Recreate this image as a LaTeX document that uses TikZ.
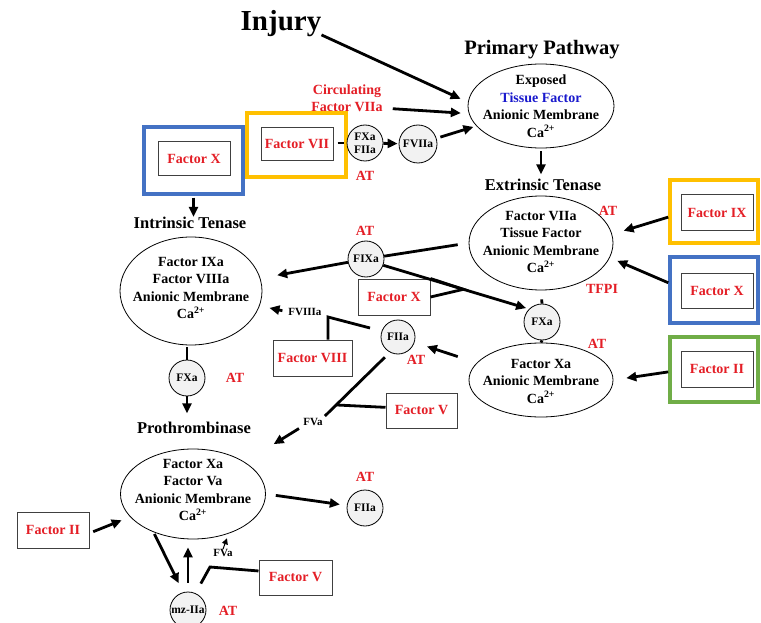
\documentclass[tikz,border=0pt]{standalone}
\usepackage{fontspec}
\setmainfont{Liberation Serif}
\usetikzlibrary{arrows.meta,shapes.geometric,calc}
\definecolor{redt}{RGB}{228,30,38}
\definecolor{bluet}{RGB}{25,25,205}
\definecolor{hly}{HTML}{FFC000}
\definecolor{hlb}{HTML}{4472C4}
\definecolor{hlg}{HTML}{70AD47}
\begin{document}
\begin{tikzpicture}[x=1pt,y=-1pt,
  ttl/.style={font=\bfseries\fontsize{16.5}{19}\selectfont, inner sep=0, anchor=base},
  etxt/.style={font=\bfseries\fontsize{14}{17.5}\selectfont, align=center, inner sep=0},
  ell/.style={draw, ellipse, line width=0.8pt, inner sep=0},
  circ/.style={draw, circle, line width=0.8pt, fill=black!5, inner sep=0, minimum size=36pt, font=\bfseries\fontsize{11.5}{13}\selectfont, align=center},
  fbox/.style={draw=black!75, line width=1pt, inner sep=0, minimum width=72pt, minimum height=35pt, text=redt, font=\bfseries\fontsize{14}{16}\selectfont},
  redlbl/.style={text=redt, font=\bfseries\fontsize{14}{17}\selectfont, inner sep=0, align=center},
  blk/.style={font=\bfseries\fontsize{11}{13}\selectfont, inner sep=0},
  hl/.style={draw, line width=3.5pt, inner sep=0},
  arr/.style={line width=2.8pt, -{Triangle[length=10pt,width=9pt]}},
  ln/.style={line width=2.8pt},
]
\useasboundingbox (0,0) rectangle (761,623);
\fill[white] (0,0) rectangle (761,623);

% ---- primary pathway
\node[ttl, font=\bfseries\fontsize{29}{31}\selectfont] (injury) at (281,31) {Injury};
\node[ttl, font=\bfseries\fontsize{20.5}{23}\selectfont] (ptitle) at (542,55) {Primary Pathway};
\node[ell, minimum width=146pt, minimum height=84pt] (prim) at (541,106) {};
\node[etxt] (primtxt) at (541,106) {Exposed\\\textcolor{bluet}{Tissue Factor}\\Anionic Membrane\\Ca\textsuperscript{2+}};

\node[redlbl] (circtxt) at (347,98.5) {Circulating\\Factor VIIa};
\node[hl, draw=hly, minimum width=99pt, minimum height=64pt] (fVIIhl) at (296.5,145) {};
\node[fbox, minimum height=33pt] (fVII) at (297,144) {Factor VII};
\node[circ] (c1) at (365,143) {FXa\\FIIa};
\node[circ, minimum size=38pt] (fVIIa) at (418,144) {FVIIa};
\node[redlbl] (at1) at (365,176) {AT};

% ---- extrinsic tenase
\node[ttl] (exttitle) at (543,190) {Extrinsic Tenase};
\node[ell, minimum width=144pt, minimum height=94pt] (ext) at (541,243) {};
\node[etxt] (exttxt) at (541,242) {Factor VIIa\\Tissue Factor\\Anionic Membrane\\Ca\textsuperscript{2+}};
\node[redlbl] (at2) at (608,211) {AT};
\node[redlbl] (tfpi) at (602,289) {TFPI};

% ---- intrinsic tenase
\node[hl, draw=hlb, minimum width=99pt, minimum height=67pt] (fX1hl) at (193.5,160.5) {};
\node[fbox, minimum height=34pt] (fX1) at (194,159) {Factor X};
\node[ttl] (inttitle) at (190,228.5) {Intrinsic Tenase};
\node[ell, minimum width=142pt, minimum height=108pt] (int) at (191,291) {};
\node[etxt] (inttxt) at (191,288) {Factor IXa\\Factor VIIIa\\Anionic Membrane\\Ca\textsuperscript{2+}};

\node[circ] (fIXa) at (366,259) {FIXa};
\node[redlbl] (at3) at (365,231) {AT};
\node[fbox, minimum height=36pt] (fX2) at (394,297) {Factor X};
\node[circ] (fXa2) at (542,322) {FXa};
\node[ell, minimum width=144pt, minimum height=74pt] (xa) at (541,380) {};
\node[etxt] (xatxt) at (541,381) {Factor Xa\\Anionic Membrane\\Ca\textsuperscript{2+}};
\node[redlbl] (at4) at (597,344) {AT};
\node[circ, minimum size=34pt] (fIIa1) at (398,337) {FIIa};
\node[redlbl] (at5) at (416,360) {AT};
\node[blk] (fVIIIa) at (305,312) {FVIIIa};
\node[fbox, minimum width=79pt, minimum height=36pt] (fVIII) at (312.5,358) {Factor VIII};
\node[fbox, minimum width=71pt] (fV1) at (421.5,410.5) {Factor V};
\node[blk] (fVa1) at (313,422) {FVa};

% ---- prothrombinase
\node[circ] (fXa1) at (187,378) {FXa};
\node[redlbl] (at6) at (235,378) {AT};
\node[ttl] (prottitle) at (194,433) {Prothrombinase};
\node[ell, minimum width=145pt, minimum height=90pt] (prot) at (193,494) {};
\node[etxt] (prottxt) at (193,490) {Factor Xa\\Factor Va\\Anionic Membrane\\Ca\textsuperscript{2+}};
\node[fbox, minimum height=36pt] (fII1) at (53,530) {Factor II};
\node[circ] (fIIa2) at (365,508) {FIIa};
\node[redlbl] (at7) at (365,477) {AT};
\node[circ] (mz) at (188,610) {mz-IIa};
\node[redlbl] (at8) at (228,611) {AT};
\node[blk] (fVa2) at (223,553) {FVa};
\node[fbox, minimum width=73pt] (fV2) at (295.5,577.5) {Factor V};

% ---- right boxes
\node[hl, draw=hly, minimum width=88pt, minimum height=63pt] (fIXhl) at (714,211.5) {};
\node[fbox] (fIX) at (717,212.5) {Factor IX};
\node[hl, draw=hlb, minimum width=88pt, minimum height=66pt] (fX3hl) at (714,290) {};
\node[fbox] (fX3) at (717,290.5) {Factor X};
\node[hl, draw=hlg, minimum width=88pt, minimum height=65pt] (fII2hl) at (714,369.5) {};
\node[fbox, minimum height=36pt] (fII2) at (717,369) {Factor II};

% ---- connectors
\draw[arr, shorten >=8pt] (injury.-15) -- (prim.177);
\draw[arr, shorten <=10pt, shorten >=8pt] (circtxt.-15) -- (prim.186);
\draw[ln, shorten <=4pt, shorten >=3pt] (fVII.east |- c1.west) -- (c1.west);
\draw[arr, shorten >=1pt] (c1) -- (fVIIa);
\draw[arr, shorten <=4pt, shorten >=3pt] (fVIIa) -- (prim);
\draw[arr, shorten <=3pt, shorten >=4pt] (prim.south) -- (prim.south |- exttitle.north);

\draw[arr, shorten <=2pt] (fX1hl.south) -- (fX1hl.south |- inttitle.north);

\draw[ln, shorten <=11pt] (ext.west) -- (fIXa);
\draw[arr, shorten >=17pt] (fIXa) -- (int);
\draw[arr, shorten >=3pt] (fIXa.-20) -- (fXa2.135);
\coordinate (jX) at ($(fIXa.-20)!0.55!(fXa2.135)$);
\draw[ln] (fX2.north east) -- (jX) -- (fX2.east);

\draw[ln, shorten <=9pt] (ext.south) -- (fXa2.north);
\draw[ln] (fXa2.south) -- (xa.north);

\draw[arr, shorten >=12pt] (fIXhl.187) -- (ext.7);
\draw[arr, shorten >=8pt] (fX3hl.171) -- (ext.-12);
\draw[arr, shorten >=13pt] (fII2hl.183) -- (xa.east);

\draw[arr, shorten <=20pt, shorten >=13pt] (xa.165) -- (fIIa1);
\coordinate (jVIII) at (328,317);
\draw[ln, shorten <=12pt] (fIIa1.160) -- (jVIII) -- (jVIII |- fVIII.north);
\draw[arr, shorten <=6pt, shorten >=10pt] (fVIIIa.west) -- (int);

\coordinate (jV) at ($(fIIa1.242)!0.8!(fVa1.north east)$);
\draw[ln, shorten <=7pt, shorten >=3pt] (fIIa1.242) -- (fVa1.north east);
\draw[ln] (fV1.175) -- (jV);
\draw[arr, shorten <=5pt, shorten >=34pt] (fVa1.south west) -- (prot);

\draw[ln, shorten <=2pt] (fXa1.north |- int.south) -- (fXa1.north);
\draw[arr, shorten >=8pt] (fXa1.south) -- (fXa1.south |- prottitle.north);

\draw[arr, shorten <=4pt, shorten >=9pt] (fII1.-5) -- (prot.200);
\draw[arr, shorten <=10pt, shorten >=7pt] (prot.east) -- (fIIa2);
\draw[arr, shorten <=2pt, shorten >=10pt] (prot.224) -- (mz.105);
\draw[arr, shorten <=9pt, shorten >=8pt] (mz.north) -- (mz.north |- prot.south);
\coordinate (jV2) at (210,567);
\draw[ln, shorten >=11pt] (fV2.170) -- (jV2) -- (mz.66);
\draw[line width=1pt, -{Triangle[length=6pt,width=6pt]}, shorten >=5pt] (fVa2.north) -- (prot.-48);
\end{tikzpicture}
\end{document}
